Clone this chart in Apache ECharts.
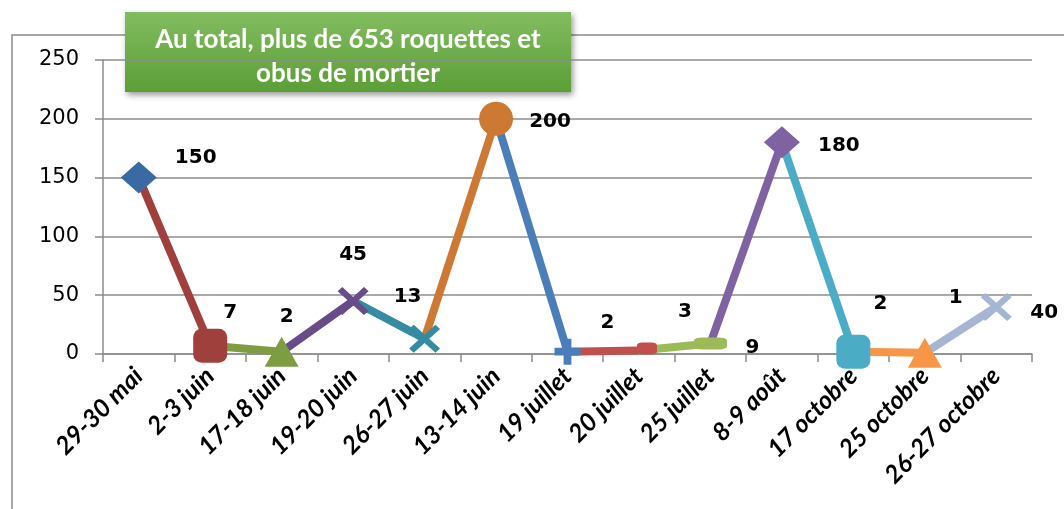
<!DOCTYPE html>
<html>
<head>
<meta charset="utf-8">
<script src="https://cdn.jsdelivr.net/npm/echarts@6/dist/echarts.min.js"></script>
<style>
  html, body { margin: 0; padding: 0; background: #fff; }
  #chart { width: 1064px; height: 509px; }
</style>
</head>
<body>
<div id="chart"></div>
<script>
// dates des tirs
var categories = ['29-30 mai', '2-3 juin', '17-18 juin', '19-20 juin', '26-27 juin', '13-14 juin',
  '19 juillet', '20 juillet', '25 juillet', '8-9 août', '17 octobre', '25 octobre', '26-27 octobre'];
// nombre de roquettes / obus
var values = [150, 7, 2, 45, 13, 200, 2, 3, 9, 180, 2, 1, 40];
var yTicks = [0, 50, 100, 150, 200, 250];

// couleur par point (le segment qui arrive au point prend sa couleur)
var pointColors = ['#3A6AA2', '#A0403D', '#7E9C42', '#674C88', '#348BA2', '#CD7833',
  '#4A7EBB', '#C0504D', '#9BBB59', '#7F62A1', '#4BACC6', '#F79646', '#A5B6D5'];

var crossPath = 'path://M0,3 L3,0 L10,7 L17,0 L20,3 L13,10 L20,17 L17,20 L10,13 L3,20 L0,17 L7,10 Z';
var plusPath = 'path://M7,0 H13 V7 H20 V13 H13 V20 H7 V13 H0 V7 H7 Z';
var symbols = ['diamond', 'roundRect', 'triangle', crossPath, crossPath, 'circle',
  plusPath, 'roundRect', 'roundRect', 'diamond', 'roundRect', 'triangle', crossPath];
var symbolSizes = [[36, 32], 34, [34, 30], [31, 28], [31, 28], 34, 26, [20, 12], [33, 12], [36, 32], 34, [34, 30], [31, 28]];
var symbolOffsets = [0, 0, 0, 0, 0, 0, 0, [8, -2], 0, 0, 0, 0, 0];
// décalage des étiquettes (placées à la main comme dans Excel)
var labelOffsets = [[57, -20], [20, -33], [5, -35], [0, -46], [-17, -42], [54, 3],
  [40, -29], [38, -37], [42, 4], [57, 3], [27, -48], [31, -55], [48, 6]];

var chart = echarts.init(document.getElementById('chart'));

var series = [];
for (var i = 1; i < values.length; i++) {
  var seg = values.map(function () { return null; });
  seg[i - 1] = values[i - 1];
  seg[i] = values[i];
  series.push({
    type: 'line',
    data: seg,
    showSymbol: false,
    symbol: 'none',
    silent: true,
    z: 2,
    lineStyle: { color: pointColors[i], width: 8 }
  });
}

series.push({
  type: 'scatter',
  z: 5,
  data: values.map(function (v, i) {
    return {
      value: v,
      symbol: symbols[i],
      symbolSize: symbolSizes[i],
      symbolOffset: symbolOffsets[i],
      itemStyle: { color: pointColors[i], opacity: 1 },
      label: { offset: labelOffsets[i] }
    };
  }),
  itemStyle: { opacity: 1 },
  label: {
    show: true,
    position: 'inside',
    color: '#000',
    fontFamily: 'DejaVu Sans',
    fontWeight: 'bold',
    fontSize: 20
  }
});

var option = {
  animation: false,
  grid: { left: 103, right: 32, top: 60, bottom: 155 },
  xAxis: {
    type: 'category',
    data: categories,
    boundaryGap: true,
    axisLine: { lineStyle: { color: '#8c8c8c', width: 1.5 } },
    axisTick: { show: true, length: 8, lineStyle: { color: '#8c8c8c', width: 1.5 } },
    axisLabel: {
      rotate: 45,
      interval: 0,
      margin: 18,
      color: '#000',
      fontFamily: 'Lato',
      fontWeight: 'bold',
      fontStyle: 'italic',
      fontSize: 25
    }
  },
  yAxis: {
    type: 'value',
    min: yTicks[0],
    max: yTicks[yTicks.length - 1],
    interval: 50,
    axisLine: { show: true, lineStyle: { color: '#8c8c8c', width: 1.5 } },
    axisTick: { show: true, length: 8, lineStyle: { color: '#8c8c8c', width: 1.5 } },
    splitLine: { lineStyle: { color: '#8c8c8c', width: 1.5 } },
    axisLabel: {
      margin: 24,
      color: '#000',
      fontFamily: 'DejaVu Sans',
      fontSize: 21
    }
  },
  graphic: [
    {
      type: 'rect',
      shape: { x: 12, y: 35, width: 1100, height: 500 },
      style: { fill: 'none', stroke: '#8a8a8a', lineWidth: 1.5 },
      z: 0
    },
    {
      type: 'group',
      left: 125,
      top: 12,
      z: 100,
      children: [
        {
          type: 'rect',
          shape: { x: 0, y: 0, width: 446, height: 80 },
          style: {
            fill: new echarts.graphic.LinearGradient(0, 0, 0, 1, [
              { offset: 0, color: '#82BC60' },
              { offset: 1, color: '#5C9E38' }
            ]),
            shadowBlur: 6,
            shadowOffsetX: 2,
            shadowOffsetY: 3,
            shadowColor: 'rgba(0,0,0,0.4)'
          }
        },
        {
          type: 'text',
          x: 223,
          y: 45,
          style: {
            text: 'Au total, plus de 653 roquettes et\nobus de mortier',
            fill: '#fff',
            font: 'bold 26px Lato',
            lineHeight: 34,
            align: 'center',
            verticalAlign: 'middle'
          }
        }
      ]
    }
  ],
  series: series
};

chart.setOption(option);
</script>
</body>
</html>
